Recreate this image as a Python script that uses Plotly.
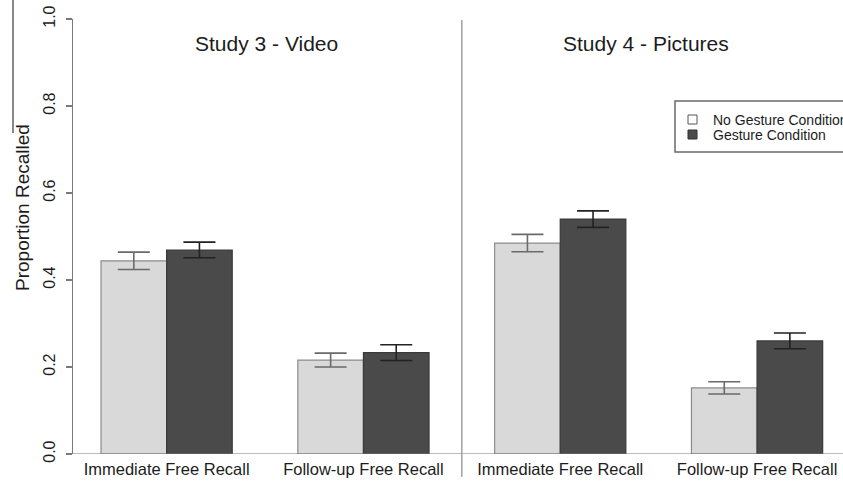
import plotly.graph_objects as go

# ---- data ----
categories = ["Immediate Free Recall", "Follow-up Free Recall",
              "Immediate Free Recall", "Follow-up Free Recall"]
studies = ["Study 3 - Video", "Study 4 - Pictures"]
series_names = ["No Gesture Condition", "Gesture Condition"]
no_gesture = [0.444, 0.216, 0.485, 0.152]
no_gesture_err = [0.020, 0.016, 0.020, 0.014]
gesture = [0.469, 0.233, 0.540, 0.260]
gesture_err = [0.018, 0.018, 0.019, 0.018]
y_ticks = [0.0, 0.2, 0.4, 0.6, 0.8, 1.0]
y_title = "Proportion Recalled"

# ---- layout helpers ----
W, H = 843, 486
L, R_, T, B = 73, 0, 19, 32
pw, ph = W - L - R_, H - T - B
def px_x(p):  # window pixel x -> paper x
    return (p - L) / pw
def px_y(p):  # window pixel y -> paper y
    return (H - B - p) / ph

group_centers = [2 + 3 * i for i in range(len(categories))]
light_x = [c - 0.5 for c in group_centers]
dark_x = [c + 0.5 for c in group_centers]

FONT = "Liberation Sans, Arial, Helvetica, sans-serif"
TXT = "#1c1c1c"

fig = go.Figure()
fig.add_trace(go.Bar(
    x=light_x, y=no_gesture, width=1.0, name=series_names[0],
    marker=dict(color="#d9d9d9", line=dict(color="#8c8c8c", width=1.2)),
    error_y=dict(type="data", array=no_gesture_err, color="#6a6a6a",
                 thickness=1.6, width=16),
    showlegend=False,
))
fig.add_trace(go.Bar(
    x=dark_x, y=gesture, width=1.0, name=series_names[1],
    marker=dict(color="#4a4a4a", line=dict(color="#3a3a3a", width=1.2)),
    error_y=dict(type="data", array=gesture_err, color="#222222",
                 thickness=1.6, width=16),
    showlegend=False,
))

shapes = []
# baseline at y = 0
shapes.append(dict(type="line", xref="paper", yref="y", x0=px_x(67), x1=1.0,
                   y0=0, y1=0, line=dict(color="#7a7a7a", width=1.2)))
# separator between studies
shapes.append(dict(type="line", xref="x", yref="paper", x0=6.5, x1=6.5,
                   y0=px_y(477), y1=px_y(20), line=dict(color="#8a8a8a", width=1.2)))
# scan artifact line at top-left
shapes.append(dict(type="line", xref="paper", yref="paper", x0=px_x(13), x1=px_x(13),
                   y0=px_y(0), y1=px_y(133), line=dict(color="#111111", width=1)))
# legend box
shapes.append(dict(type="rect", xref="paper", yref="paper", x0=px_x(675), x1=px_x(850),
                   y0=px_y(152), y1=px_y(101), line=dict(color="#6a6a6a", width=1.5),
                   fillcolor="white"))
shapes.append(dict(type="rect", xref="paper", yref="paper", x0=px_x(688), x1=px_x(697),
                   y0=px_y(124), y1=px_y(115), line=dict(color="#555555", width=1),
                   fillcolor="white"))
shapes.append(dict(type="rect", xref="paper", yref="paper", x0=px_x(688), x1=px_x(697),
                   y0=px_y(139), y1=px_y(130), line=dict(color="#333333", width=1),
                   fillcolor="#4a4a4a"))

annotations = []
annotations.append(dict(text=studies[0], x=3.53, xref="x", y=px_y(43), yref="paper",
                        xanchor="center", yanchor="middle", showarrow=False,
                        font=dict(family=FONT, size=21, color=TXT)))
annotations.append(dict(text=studies[1], x=9.31, xref="x", y=px_y(43), yref="paper",
                        xanchor="center", yanchor="middle", showarrow=False,
                        font=dict(family=FONT, size=21, color=TXT)))
annotations.append(dict(text=y_title, x=px_x(22), xref="paper", y=px_y(208), yref="paper",
                        xanchor="center", yanchor="middle", textangle=-90, showarrow=False,
                        font=dict(family=FONT, size=19, color=TXT)))
annotations.append(dict(text=series_names[0], x=px_x(711), xref="paper", xanchor="left",
                        y=px_y(120), yref="paper", yanchor="middle", showarrow=False,
                        font=dict(family=FONT, size=14, color=TXT)))
annotations.append(dict(text=series_names[1], x=px_x(711), xref="paper", xanchor="left",
                        y=px_y(135), yref="paper", yanchor="middle", showarrow=False,
                        font=dict(family=FONT, size=14, color=TXT)))

fig.update_layout(
    width=W, height=H,
    margin=dict(l=L, r=R_, t=T, b=B, pad=0),
    paper_bgcolor="white", plot_bgcolor="white",
    barmode="overlay", bargap=0,
    shapes=shapes, annotations=annotations,
    font=dict(family=FONT, color=TXT),
    xaxis=dict(range=[0.573, 12.31], tickvals=group_centers, ticktext=categories,
               showgrid=False, zeroline=False, showline=False, ticks="",
               ticklabeloverflow="allow", ticklabelstandoff=3,
               tickfont=dict(family=FONT, size=16.5, color=TXT), fixedrange=True),
    yaxis=dict(range=[0, 1], tickvals=y_ticks, ticktext=[f"{v:.1f}" for v in y_ticks],
               showgrid=False, zeroline=False, showline=True, linecolor="#7a7a7a",
               linewidth=1.2, ticks="outside", ticklen=6, tickcolor="#7a7a7a",
               tickwidth=1.2, tickangle=-90, ticklabelstandoff=4,
               ticklabeloverflow="allow",
               tickfont=dict(family=FONT, size=16, color=TXT), fixedrange=True),
)

fig.write_html(
    "out.html",
    config={"displayModeBar": False, "staticPlot": True},
    post_script="document.body.style.margin='0';document.body.style.overflow='hidden';",
)
